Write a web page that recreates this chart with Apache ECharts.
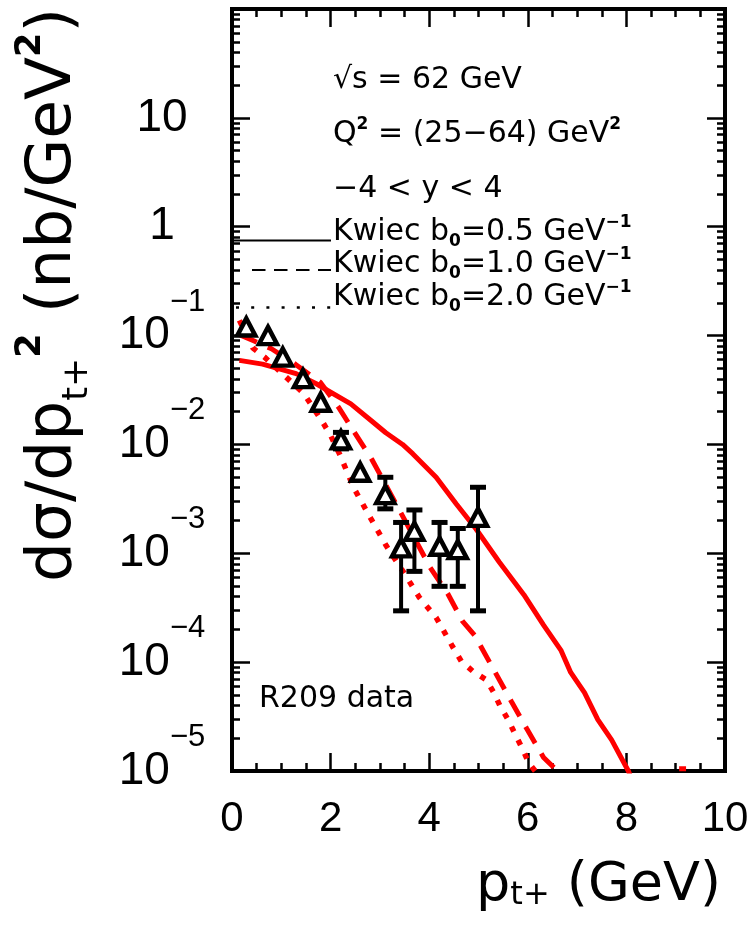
<!DOCTYPE html>
<html>
<head>
<meta charset="utf-8">
<script src="https://cdn.jsdelivr.net/npm/echarts@6/dist/echarts.min.js"></script>
<style>
  html, body { margin: 0; padding: 0; background: #fff; }
  #chart { width: 755px; height: 936px; }
</style>
</head>
<body>
<div id="chart"></div>
<script>
// R209 data points: p_t+ (GeV) and d(sigma)/dp_t+^2 (nb/GeV^2)
const ptData    = [0.29, 0.73, 1.03, 1.44, 1.80, 2.21, 2.60, 3.11, 3.43, 3.70, 4.21, 4.58, 4.99];
const sigmaData = [0.120, 0.100, 0.0634, 0.0402, 0.0244, 0.0110, 0.00555, 0.00346, 0.00112, 0.00159, 0.00116, 0.00108, 0.00214];
// error bar ends (null where the bar is hidden by the marker)
const errLow  = [null, null, null, null, null, 0.0091, null, 0.00256, 0.000296, 0.000682, 0.000497, 0.000497, 0.000296];
const errHigh = [null, null, null, null, null, 0.0129, null, 0.00499, 0.00192, 0.00250, 0.00192, 0.00169, 0.00404];

// Kwiecinski predictions, b0 = 0.5 GeV^-1 (solid)
const kwiec05 = [
  [0.15, 0.0592], [0.62, 0.0547], [0.96, 0.0495], [1.30, 0.0447], [1.71, 0.0361],
  [1.94, 0.0313], [2.41, 0.0236], [2.82, 0.0166], [3.12, 0.0128], [3.46, 0.0100],
  [3.67, 0.00818], [4.14, 0.00499], [4.55, 0.00284], [4.95, 0.00167], [5.42, 0.000832],
  [5.92, 0.000417], [6.32, 0.000219], [6.67, 0.000129], [6.87, 0.0000805], [7.15, 0.0000524],
  [7.42, 0.0000296], [7.70, 0.0000193], [8.04, 0.0000100], [8.30, 0.0000050]
];
const kwiec05Tail = [[9.07, 0.0000105], [9.21, 0.0000105]];
// b0 = 1.0 GeV^-1 (dashed)
const kwiec10 = [
  [0.15, 0.102], [0.45, 0.0891], [0.80, 0.0757], [1.29, 0.0543], [1.79, 0.0373],
  [2.16, 0.0220], [2.46, 0.0134], [2.84, 0.00724], [3.40, 0.00247], [4.02, 0.000741],
  [4.38, 0.000423], [4.67, 0.000240], [4.92, 0.000177], [5.33, 0.0000820], [5.67, 0.0000432],
  [5.98, 0.0000244], [6.32, 0.0000133], [6.60, 0.0000100], [6.90, 0.0000050]
];
// b0 = 2.0 GeV^-1 (dotted)
const kwiec20 = [
  [0.15, 0.138], [0.42, 0.0771], [0.66, 0.0634], [1.46, 0.0292], [1.84, 0.0160],
  [2.00, 0.0121], [2.18, 0.00818], [2.48, 0.00391], [2.82, 0.00207], [3.13, 0.00117],
  [3.46, 0.000692], [3.80, 0.000393], [4.14, 0.000257], [4.47, 0.000140], [4.65, 0.000102],
  [4.89, 0.0000820], [5.16, 0.0000687], [5.30, 0.0000535], [5.43, 0.0000402], [5.61, 0.0000291],
  [5.74, 0.0000219], [5.88, 0.0000164], [6.02, 0.0000119], [6.15, 0.0000100], [6.40, 0.0000050]
];

// axis ticks
const xTicks = [0, 2, 4, 6, 8, 10];
const yDecades = [1e-5, 1e-4, 1e-3, 1e-2, 1e-1, 1, 10, 100];
const yLabels = [1e-5, 1e-4, 1e-3, 1e-2, 1e-1, 1, 10];
const yMinor = [];
yDecades.slice(0, -1).forEach(d => { for (let m = 2; m <= 9; m++) yMinor.push(+(m * d).toPrecision(3)); });

const TXT = 'DejaVu Sans';
const NUM = 'Liberation Sans';
const RED = '#ff0000';

const errRows = [];
ptData.forEach((x, i) => { if (errLow[i] != null) errRows.push([x, errLow[i], errHigh[i]]); });

const tickStyle = { color: '#000', width: 2.5 };
const yBase = { type: 'log', logBase: 10, min: 1e-5, max: 100, axisLine: { show: false }, splitLine: { show: false } };
const xBase = { type: 'value', min: 0, max: 10, interval: 2, axisLine: { show: false }, splitLine: { show: false },
  axisTick: { inside: true, length: 18, lineStyle: tickStyle },
  minorTick: { show: true, splitNumber: 4, length: 8, lineStyle: tickStyle } };

function yLabel(v) {
  const e = Math.round(Math.log10(v));
  if (e === 1) return '{b|10}';
  if (e === 0) return '{b|1}';
  return '{b|10}{e|\u2212' + (-e) + '}';
}

const paveRich = {
  m: { fontFamily: TXT, fontSize: 30, lineHeight: 36, verticalAlign: 'middle', color: '#000' },
  sup: { fontFamily: TXT, fontSize: 17, fontWeight: 'bold', lineHeight: 14, verticalAlign: 'top', color: '#000' },
  sub: { fontFamily: TXT, fontSize: 17, fontWeight: 'bold', lineHeight: 14, verticalAlign: 'bottom', color: '#000' }
};
function pave(text, x, y) {
  return { type: 'text', x: x, y: y, z: 50,
    style: { text: text, rich: paveRich, align: 'left', verticalAlign: 'middle', fill: '#000' } };
}

const chart = echarts.init(document.getElementById('chart'), null, { renderer: 'canvas' });
chart.setOption({
  animation: false,
  backgroundColor: '#fff',
  grid: { left: 232, top: 9, right: 30, bottom: 165, show: true, borderColor: '#000', borderWidth: 4,
    containLabel: false, outerBoundsMode: 'none' },
  xAxis: [
    Object.assign({}, xBase, { position: 'bottom',
      axisLabel: { margin: 27, fontFamily: NUM, fontSize: 42, color: '#000',
        customValues: xTicks } }),
    Object.assign({}, xBase, { position: 'top', axisLabel: { show: false } })
  ],
  yAxis: [
    Object.assign({}, yBase, { position: 'left',
      axisTick: { inside: true, length: 18, lineStyle: tickStyle, customValues: yDecades },
      axisLabel: { customValues: yLabels, formatter: yLabel, align: 'center', margin: 70, color: '#000',
        rich: {
          b: { fontFamily: NUM, fontSize: 46, lineHeight: 98, verticalAlign: 'middle', color: '#000' },
          e: { fontFamily: NUM, fontSize: 31, lineHeight: 14, verticalAlign: 'top', color: '#000' }
        } } }),
    Object.assign({}, yBase, { position: 'left',
      axisTick: { inside: true, length: 8, lineStyle: tickStyle, customValues: yMinor },
      axisLabel: { show: false } }),
    Object.assign({}, yBase, { position: 'right',
      axisTick: { inside: true, length: 18, lineStyle: tickStyle, customValues: yDecades },
      axisLabel: { show: false } }),
    Object.assign({}, yBase, { position: 'right',
      axisTick: { inside: true, length: 8, lineStyle: tickStyle, customValues: yMinor },
      axisLabel: { show: false } })
  ],
  series: [
    { name: 'Kwiec b0=0.5', type: 'line', data: kwiec05, showSymbol: false, z: 2, clip: true,
      lineStyle: { color: RED, width: 5 } },
    { name: 'Kwiec b0=0.5 tail', type: 'line', data: kwiec05Tail, showSymbol: false, z: 2, clip: true,
      lineStyle: { color: RED, width: 5 } },
    { name: 'Kwiec b0=1.0', type: 'line', data: kwiec10, showSymbol: false, z: 2, clip: true,
      lineStyle: { color: RED, width: 5, type: [19, 12], cap: 'butt' } },
    { name: 'Kwiec b0=2.0', type: 'line', data: kwiec20, showSymbol: false, z: 2, clip: true,
      lineStyle: { color: RED, width: 5.5, type: [5.5, 9.5], cap: 'butt' } },
    { name: 'errors', type: 'custom', data: errRows, z: 3, clip: true,
      encode: { x: 0, y: [1, 2] },
      renderItem: function (params, api) {
        const x = api.value(0);
        const top = api.coord([x, api.value(2)]);
        const bot = api.coord([x, api.value(1)]);
        const c = 8;
        return { type: 'group', children: [
          { type: 'line', shape: { x1: top[0], y1: top[1], x2: bot[0], y2: bot[1] }, style: { stroke: '#000', lineWidth: 4 } },
          { type: 'line', shape: { x1: top[0] - c, y1: top[1], x2: top[0] + c, y2: top[1] }, style: { stroke: '#000', lineWidth: 5 } },
          { type: 'line', shape: { x1: bot[0] - c, y1: bot[1], x2: bot[0] + c, y2: bot[1] }, style: { stroke: '#000', lineWidth: 5 } }
        ] };
      } },
    { name: 'R209 data', type: 'scatter', z: 5,
      data: ptData.map((x, i) => [x, sigmaData[i]]),
      symbol: 'triangle', symbolSize: [18, 17],
      itemStyle: { color: '#fff', borderColor: '#000', borderWidth: 4.5, opacity: 1 } }
  ],
  graphic: [
    pave('{m|\u221As = 62 GeV}', 333, 80),
    pave('{m|Q}{sup|2}{m| = (25\u221264) GeV}{sup|2}', 333, 134),
    pave('{m|\u22124 < y < 4}', 333, 189),
    pave('{m|Kwiec b}{sub|0}{m|=0.5 GeV}{sup|\u22121}', 333, 232),
    pave('{m|Kwiec b}{sub|0}{m|=1.0 GeV}{sup|\u22121}', 333, 264),
    pave('{m|Kwiec b}{sub|0}{m|=2.0 GeV}{sup|\u22121}', 333, 297),
    pave('{m|R209 data}', 259, 699),
    // legend samples
    { type: 'line', z: 50, shape: { x1: 234, y1: 240.5, x2: 331, y2: 240.5 }, style: { stroke: '#000', lineWidth: 2 } },
    { type: 'line', z: 50, shape: { x1: 252, y1: 270, x2: 331, y2: 270 }, style: { stroke: '#000', lineWidth: 2, lineDash: [13.5, 8.5] } },
    { type: 'line', z: 50, shape: { x1: 236, y1: 307.5, x2: 331, y2: 307.5 }, style: { stroke: '#000', lineWidth: 2.5, lineDash: [3, 12.2] } },
    // axis titles
    { type: 'text', x: 721, y: 886, z: 50,
      style: { text: '{a|p}{s|t+}{a| (GeV)}', align: 'right', verticalAlign: 'middle', fill: '#000',
        rich: {
          a: { fontFamily: TXT, fontSize: 54, lineHeight: 52, verticalAlign: 'middle', color: '#000' },
          s: { fontFamily: TXT, fontSize: 32, lineHeight: 24, verticalAlign: 'bottom', color: '#000' }
        } } },
    { type: 'text', x: 54, y: 8, rotation: Math.PI / 2, z: 50,
      style: { text: '{a|d\u03C3/dp}{s|t+}{e|2}{a| (nb/GeV}{e|2}{a|)}', align: 'right', verticalAlign: 'middle', fill: '#000',
        rich: {
          a: { fontFamily: TXT, fontSize: 63, lineHeight: 82, verticalAlign: 'middle', color: '#000' },
          s: { fontFamily: TXT, fontSize: 35, lineHeight: 24, verticalAlign: 'bottom', color: '#000' },
          e: { fontFamily: TXT, fontSize: 35, fontWeight: 'bold', lineHeight: 24, verticalAlign: 'top', color: '#000' }
        } } }
  ]
});
</script>
</body>
</html>
